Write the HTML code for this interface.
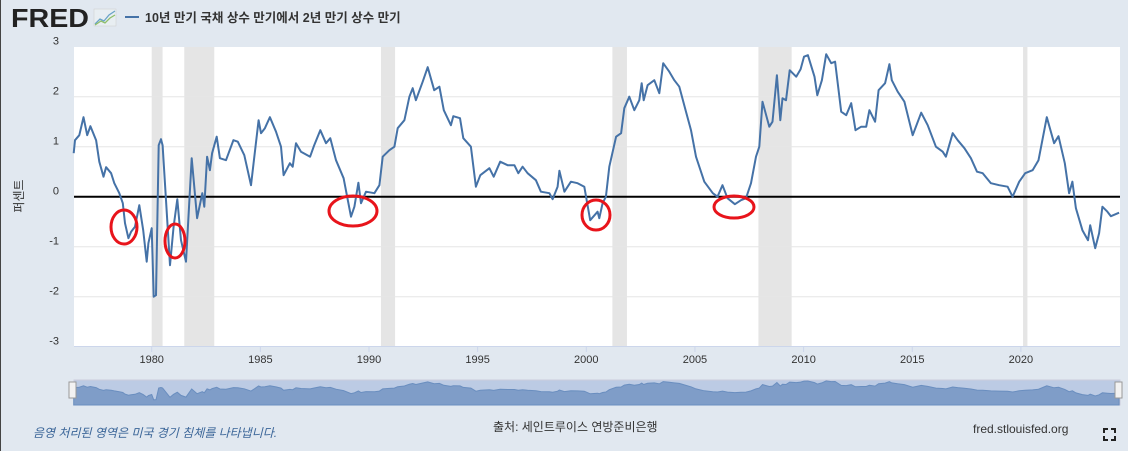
<!DOCTYPE html>
<html><head><meta charset="utf-8">
<style>
html,body{margin:0;padding:0;}
body{width:1128px;height:451px;background:#e1e8f0;overflow:hidden;position:relative;font-family:"Liberation Sans","Noto Sans CJK KR",sans-serif;border-left:1px solid #444;box-sizing:border-box;}
</style></head>
<body>
<svg width="1128" height="451" viewBox="0 0 1128 451" style="position:absolute;left:0;top:0">
  <g>
    <text x="10" y="27" font-size="26" font-weight="bold" fill="#222" font-family="Liberation Sans, sans-serif" textLength="78" lengthAdjust="spacingAndGlyphs">FRED</text>
    <rect x="93" y="9" width="22" height="17" fill="#e8eef2" stroke="#ccc" stroke-width="0.5"/>
    <polyline points="94,24 99,19 103,21 108,15 114,11" fill="none" stroke="#6aa3c8" stroke-width="1.3"/>
    <polyline points="94,25 100,21 104,23 109,18 114,15" fill="none" stroke="#8fbf6a" stroke-width="1.3"/>
  </g>
  <g>
    <line x1="124" y1="17" x2="138" y2="17" stroke="#4572a7" stroke-width="2"/>
    <text x="144" y="22" font-size="12.5" font-weight="bold" fill="#333" font-family="Liberation Sans, Noto Sans CJK KR, sans-serif">10년 만기 국채 상수 만기에서 2년 만기 상수 만기</text>
  </g>
  <rect x="73" y="47" width="1046" height="300" fill="#fff"/>
  <g id="rec"></g>
  <g id="grid"></g>
  <g id="ylab"></g>
  <g id="xlab"></g>
  <line x1="73" y1="196.7" x2="1119" y2="196.7" stroke="#000" stroke-width="2"/>
  <path id="series" fill="none" stroke="#4572a7" stroke-width="2" stroke-linejoin="round"/>
  <g fill="none" stroke="#e8141b" stroke-width="3">
    <ellipse cx="123" cy="227" rx="13" ry="17"/>
    <ellipse cx="174" cy="241" rx="10" ry="17"/>
    <ellipse cx="352" cy="211" rx="24" ry="15"/>
    <ellipse cx="595" cy="215" rx="14" ry="15"/>
    <ellipse cx="733" cy="207" rx="20" ry="11"/>
  </g>
  <text transform="translate(22,196) rotate(-90)" text-anchor="middle" font-size="12" fill="#333">퍼센트</text>
  <g>
    <rect x="73" y="380" width="1046" height="25" fill="#bccbe4" stroke="#ccd" />
    <path id="navarea" fill="#7f9dc8" stroke="#6a8ebf" stroke-width="1"/>
    <rect x="68" y="382" width="7" height="16" fill="#f2f2f2" stroke="#999"/>
    <rect x="1114" y="382" width="7" height="16" fill="#f2f2f2" stroke="#999"/>
  </g>
  <text x="32" y="437" font-size="12" font-style="italic" fill="#3a6598">음영 처리된 영역은 미국 경기 침체를 나타냅니다.</text>
  <text x="492" y="431" font-size="12" fill="#333">출처: 세인트루이스 연방준비은행</text>
  <text x="972" y="433" font-size="12" fill="#333">fred.stlouisfed.org</text>
  <g stroke="#222" stroke-width="2" fill="none">
    <polyline points="1103,433 1103,429 1107,429"/><polyline points="1110,429 1114,429 1114,433"/>
    <polyline points="1103,436 1103,440 1107,440"/><polyline points="1110,440 1114,440 1114,436"/>
  </g>
</svg>
<script>
const years=[1976.41,1976.47,1976.67,1976.86,1977.03,1977.18,1977.44,1977.59,1977.78,1977.9,1978.13,1978.28,1978.51,1978.67,1978.77,1978.93,1979.05,1979.23,1979.43,1979.61,1979.77,1979.85,1980.0,1980.09,1980.2,1980.32,1980.43,1980.5,1980.66,1980.84,1981.01,1981.18,1981.35,1981.58,1981.84,1982.09,1982.33,1982.42,1982.55,1982.68,1982.78,1982.99,1983.14,1983.42,1983.76,1983.96,1984.26,1984.57,1984.92,1985.03,1985.21,1985.44,1985.72,1985.95,1986.07,1986.36,1986.49,1986.64,1986.87,1987.29,1987.48,1987.76,1988.02,1988.22,1988.48,1988.83,1989.17,1989.33,1989.51,1989.63,1989.86,1990.25,1990.48,1990.63,1990.94,1991.17,1991.32,1991.63,1991.86,1992.01,1992.16,1992.47,1992.7,1993.0,1993.24,1993.44,1993.77,1993.88,1994.19,1994.34,1994.69,1994.92,1995.12,1995.54,1995.74,1996.04,1996.38,1996.69,1996.87,1997.07,1997.3,1997.68,1997.91,1998.3,1998.45,1998.68,1998.76,1998.99,1999.29,1999.6,1999.91,2000.18,2000.52,2000.6,2000.75,2000.9,2001.06,2001.37,2001.6,2001.75,2001.98,2002.21,2002.44,2002.55,2002.64,2002.82,2003.13,2003.36,2003.54,2003.82,2004.05,2004.28,2004.59,2004.82,2005.05,2005.43,2005.82,2006.04,2006.27,2006.5,2006.84,2007.12,2007.35,2007.58,2007.81,2007.96,2008.11,2008.42,2008.57,2008.77,2008.93,2009.03,2009.19,2009.36,2009.66,2009.86,2010.02,2010.2,2010.5,2010.63,2010.84,2011.04,2011.27,2011.45,2011.73,2011.96,2012.19,2012.39,2012.65,2012.88,2013.03,2013.29,2013.45,2013.75,2013.95,2014.06,2014.33,2014.64,2015.02,2015.41,2015.71,2016.09,2016.4,2016.55,2016.86,2017.09,2017.4,2017.7,2017.98,2018.24,2018.62,2019.0,2019.39,2019.62,2019.92,2020.2,2020.54,2020.81,2021.19,2021.53,2021.73,2022.02,2022.22,2022.37,2022.53,2022.83,2023.09,2023.19,2023.42,2023.6,2023.75,2023.98,2024.14,2024.52];
const spread=[0.87,1.13,1.23,1.59,1.23,1.41,1.13,0.70,0.40,0.59,0.47,0.27,0.07,-0.13,-0.53,-0.83,-0.70,-0.60,-0.17,-0.67,-1.30,-0.93,-0.63,-2.0,-1.97,1.03,1.15,1.03,-0.07,-1.37,-0.60,-0.05,-0.87,-1.30,0.77,-0.43,0.07,-0.20,0.80,0.53,0.87,1.20,0.77,0.73,1.13,1.10,0.83,0.23,1.53,1.27,1.37,1.59,1.30,1.0,0.43,0.67,0.60,1.07,0.90,0.80,1.03,1.33,1.07,1.17,0.73,0.37,-0.40,-0.20,0.28,-0.13,0.10,0.07,0.23,0.80,0.93,1.0,1.37,1.53,2.0,2.17,1.93,2.30,2.59,2.13,2.20,1.73,1.43,1.61,1.57,1.17,1.0,0.20,0.43,0.57,0.40,0.70,0.63,0.63,0.47,0.60,0.47,0.33,0.10,0.07,-0.05,0.20,0.52,0.10,0.30,0.27,0.20,-0.47,-0.30,-0.43,-0.13,0.0,0.60,1.20,1.27,1.77,2.0,1.73,1.93,2.27,1.93,2.23,2.33,2.07,2.67,2.50,2.33,2.20,1.70,1.33,0.80,0.30,0.07,0.0,0.23,-0.03,-0.15,-0.07,-0.03,0.27,0.80,1.0,1.90,1.40,1.50,2.43,1.53,1.97,1.93,2.53,2.40,2.55,2.80,2.83,2.40,2.03,2.33,2.85,2.67,2.70,1.70,1.63,1.87,1.33,1.40,1.40,1.73,1.50,2.13,2.27,2.65,2.33,2.10,1.90,1.23,1.68,1.43,1.0,0.90,0.80,1.27,1.13,0.97,0.77,0.50,0.47,0.27,0.23,0.20,0.0,0.30,0.47,0.53,0.73,1.59,1.07,1.21,0.67,0.07,0.30,-0.23,-0.67,-0.87,-0.57,-1.03,-0.73,-0.20,-0.30,-0.39,-0.32];
const recStart=[1980.0,1981.5,1990.55,2001.2,2007.92,2020.1];
const recEnd=[1980.5,1982.88,1991.2,2001.87,2009.45,2020.3];
const yTicks=[3,2,1,0,-1,-2,-3];
const xTicks=[1980,1985,1990,1995,2000,2005,2010,2015,2020];
const NS="http://www.w3.org/2000/svg";
function X(t){return 150.7+(t-1980)*21.73;}
function Y(v){return 196.7-v*50;}
function NY(v){return 392-v*3.9;}
const rec=document.getElementById('rec');
recStart.forEach((s,i)=>{const r=document.createElementNS(NS,'rect');
r.setAttribute('x',X(s));r.setAttribute('y',47);r.setAttribute('width',X(recEnd[i])-X(s));r.setAttribute('height',300);r.setAttribute('fill','#e5e5e5');


rec.appendChild(r);});
const grid=document.getElementById('grid'),ylab=document.getElementById('ylab'),xlab=document.getElementById('xlab');
yTicks.forEach(v=>{if(v!==3&&v!==-3&&v!==0){const l=document.createElementNS(NS,'line');
l.setAttribute('x1',73);l.setAttribute('x2',1119);l.setAttribute('y1',Y(v));l.setAttribute('y2',Y(v));l.setAttribute('stroke','#e6e6e6');


grid.appendChild(l);}
const t=document.createElementNS(NS,'text');t.setAttribute('x',58);t.setAttribute('y',Y(v)-2);t.setAttribute('text-anchor','end');t.setAttribute('font-size','11');t.setAttribute('fill','#333');t.textContent=v;


ylab.appendChild(t);});
const ax=document.createElementNS(NS,'line');ax.setAttribute('x1',73);ax.setAttribute('x2',1119);ax.setAttribute('y1',346.5);ax.setAttribute('y2',346.5);ax.setAttribute('stroke','#ccd6eb');


grid.appendChild(ax);
xTicks.forEach(y=>{const l=document.createElementNS(NS,'line');l.setAttribute('x1',X(y));l.setAttribute('x2',X(y));l.setAttribute('y1',347);l.setAttribute('y2',352);l.setAttribute('stroke','#ccd6eb');


xlab.appendChild(l);
const t=document.createElementNS(NS,'text');t.setAttribute('x',X(y));t.setAttribute('y',363);t.setAttribute('text-anchor','middle');t.setAttribute('font-size','11');t.setAttribute('fill','#333');t.textContent=y;


xlab.appendChild(t);});
let d='',nd='';
years.forEach((t,i)=>{d+=(i?'L':'M')+X(t).toFixed(1)+','+Y(spread[i]).toFixed(1);nd+=(i?'L':'M')+X(t).toFixed(1)+','+NY(spread[i]).toFixed(1);});
document.getElementById('series').setAttribute('d',d);
document.getElementById('navarea').setAttribute('d',nd+'L'+X(years[years.length-1]).toFixed(1)+',405L'+X(years[0]).toFixed(1)+',405Z');
</script>
</body></html>
